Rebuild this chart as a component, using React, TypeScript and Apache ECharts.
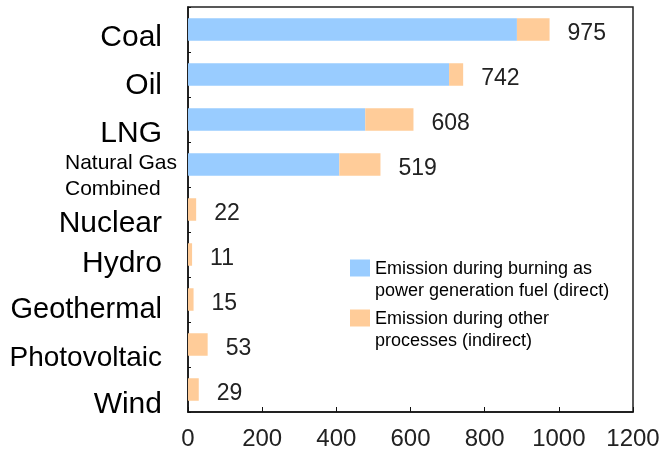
import React, { useEffect, useRef } from "react";
import * as echarts from "echarts";

const categories = [
  "Coal",
  "Oil",
  "LNG",
  "Natural Gas\nCombined",
  "Nuclear",
  "Hydro",
  "Geothermal",
  "Photovoltaic",
  "Wind",
];
const directValues = [887, 704, 478, 408, 0, 0, 0, 0, 0];
const indirectValues = [88, 38, 130, 111, 22, 11, 15, 53, 29];
const seriesNames = [
  "Emission during burning as power generation fuel (direct)",
  "Emission during other processes (indirect)",
];
const legendLines = [
  ["Emission during burning as", "power generation fuel (direct)"],
  ["Emission during other", "processes (indirect)"],
];
const xTicks = { min: 0, max: 1200, interval: 200 };

// label styling (not data)
const labelShift = [6, 9, 11.5, 0, 11.5, 6.5, 8.5, 12, 12.5];
const labelSize = [30, 30, 30, 21, 30, 30, 29, 28, 30];

const FONT = "'Liberation Sans', Arial, Helvetica, sans-serif";

export default function App() {
  const ref = useRef<HTMLDivElement>(null);

  useEffect(() => {
    if (!ref.current) return;
    const chart = echarts.init(ref.current, null, { renderer: "svg" });

    const rich: Record<string, any> = {
      e: { fontSize: 10, lineHeight: 19, fontFamily: FONT },
      s: { fontSize: 21, lineHeight: 26, align: "left", color: "#000", fontFamily: FONT },
    };
    categories.forEach((_, i) => {
      rich["c" + i] = {
        fontSize: labelSize[i],
        color: "#000",
        fontFamily: FONT,
        padding: [labelShift[i] * 2, 15, 0, 0],
      };
    });

    const option: any = {
      animation: false,
      textStyle: { fontFamily: FONT },
      grid: {
        left: 188,
        right: 31,
        top: 7,
        bottom: 37,
        show: true,
        borderColor: "#222",
        borderWidth: 1.5,
        backgroundColor: "transparent",
      },
      legend: {
        orient: "vertical",
        left: 350,
        top: 237,
        padding: 0,
        itemWidth: 20,
        itemHeight: 17,
        itemGap: -12,
        icon: "rect",
        data: seriesNames,
        formatter: (name: string) => {
          const idx = seriesNames.indexOf(name);
          return "{e| }\n" + legendLines[idx].map((l) => `{t|${l}}`).join("\n");
        },
        textStyle: {
          color: "#000",
          fontSize: 18,
          rich: {
            e: { fontSize: 18, lineHeight: 22, fontFamily: FONT },
            t: { fontSize: 18, lineHeight: 22, color: "#000", fontFamily: FONT },
          },
        },
      },
      xAxis: {
        type: "value",
        min: xTicks.min,
        max: xTicks.max,
        interval: xTicks.interval,
        axisLine: { show: true, lineStyle: { color: "#111", width: 1.5 } },
        axisTick: { show: true, inside: true, length: 5, lineStyle: { color: "#111" } },
        splitLine: { show: false },
        axisLabel: {
          fontSize: 24,
          color: "#222",
          margin: 13,
          fontFamily: FONT,
          formatter: (v: number) => String(v),
        },
      },
      yAxis: {
        type: "category",
        inverse: true,
        data: categories,
        axisLine: { show: true, lineStyle: { color: "#111", width: 1.5 } },
        axisTick: { show: true, inside: true, length: 3, lineStyle: { color: "#111" } },
        axisLabel: {
          interval: 0,
          margin: 11,
          formatter: (value: string, index: number) => {
            if (value.indexOf("\n") >= 0) {
              return "{e| }\n" + value.split("\n").map((l) => `{s|${l}}`).join("\n");
            }
            return `{c${index}|${value}}`;
          },
          rich,
        },
      },
      series: [
        {
          name: seriesNames[0],
          type: "bar",
          stack: "total",
          barWidth: "50%",
          itemStyle: { color: "#99CCFF" },
          data: directValues,
        },
        {
          name: seriesNames[1],
          type: "bar",
          stack: "total",
          barWidth: "50%",
          itemStyle: { color: "#FFCC99" },
          data: indirectValues,
          label: {
            show: true,
            position: "right",
            distance: 18,
            offset: [0, 2],
            fontSize: 23,
            color: "#222",
            fontFamily: FONT,
            formatter: (p: any) => String(directValues[p.dataIndex] + indirectValues[p.dataIndex]),
          },
        },
      ],
    };

    chart.setOption(option);
    return () => chart.dispose();
  }, []);

  return (
    <div
      ref={ref}
      style={{ position: "fixed", left: 0, top: 0, width: 664, height: 449 }}
    />
  );
}
